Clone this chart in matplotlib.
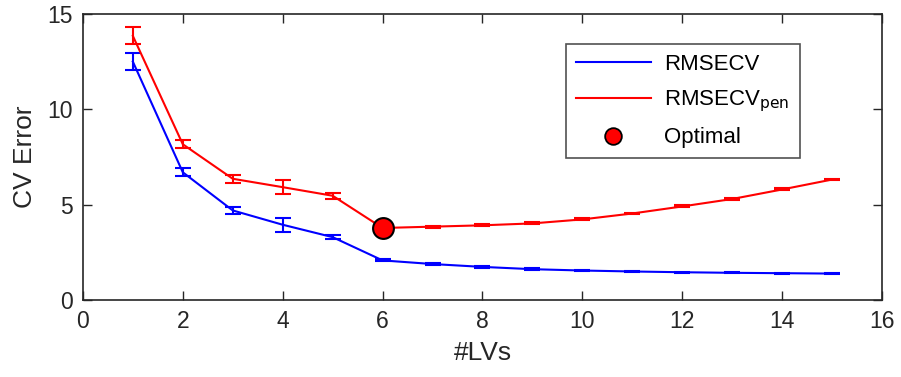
import matplotlib
matplotlib.use("Agg")
import matplotlib.pyplot as plt
from matplotlib.lines import Line2D

plt.rcParams['font.family'] = ['Liberation Sans', 'DejaVu Sans']

lvs = list(range(1, 16))
rmsecv = [12.5, 6.7, 4.7, 3.95, 3.3, 2.08, 1.89, 1.74, 1.62, 1.55, 1.50, 1.46, 1.43, 1.41, 1.39]
rmsecv_err = [0.45, 0.2, 0.18, 0.36, 0.12, 0.05, 0.04, 0.04, 0.04, 0.04, 0.04, 0.03, 0.03, 0.03, 0.03]
rmsecv_pen = [13.85, 8.17, 6.36, 5.92, 5.47, 3.78, 3.85, 3.92, 4.02, 4.23, 4.54, 4.91, 5.30, 5.80, 6.32]
rmsecv_pen_err = [0.45, 0.2, 0.2, 0.36, 0.15, 0.05, 0.05, 0.05, 0.05, 0.05, 0.05, 0.05, 0.05, 0.05, 0.05]
opt_lv = 6
opt_val = 3.78

axcol = '#262626'
fig = plt.figure(figsize=(9.01, 3.77), dpi=100)
ax = fig.add_axes([0.092, 0.204, 0.887, 0.759])

ax.errorbar(lvs, rmsecv, yerr=rmsecv_err, color='#0000ff', lw=1.5, capsize=5.5,
            capthick=1.5, elinewidth=1.5)
ax.errorbar(lvs, rmsecv_pen, yerr=rmsecv_pen_err, color='#ff0000', lw=1.5, capsize=5.5,
            capthick=1.5, elinewidth=1.5)
ax.plot([opt_lv], [opt_val], 'o', ms=15, mfc='#ff0000', mec='black', mew=1.5,
        ls='none', zorder=5)

ax.set_xlim(0, 16)
ax.set_ylim(0, 15)
ax.set_xticks(range(0, 17, 2))
ax.set_yticks([0, 5, 10, 15])
ax.tick_params(direction='in', length=6.5, width=1, colors=axcol, labelsize=16.5,
               top=True, right=True, pad=7)
for lab in ax.get_xticklabels() + ax.get_yticklabels():
    lab.set_color(axcol)
for s in ax.spines.values():
    s.set_color(axcol)
    s.set_linewidth(1.2)
ax.set_xlabel('#LVs', fontsize=19, color=axcol, labelpad=6)
ax.set_ylabel('CV Error', fontsize=19, color=axcol, labelpad=8)

handles = [Line2D([], [], color='#0000ff', lw=1.5),
           Line2D([], [], color='#ff0000', lw=1.5),
           Line2D([], [], marker='o', ms=12, mfc='#ff0000', mec='black', mew=1.3, ls='none')]
leg = ax.legend(handles, ['RMSECV', 'RMSECV$_{\\mathrm{pen}}$', 'Optimal'],
                loc='upper right', bbox_to_anchor=(0.897, 0.895), fontsize=16,
                frameon=True, fancybox=False, edgecolor=axcol, handlelength=3.4,
                borderpad=0.45, labelspacing=0.6, handletextpad=0.6, borderaxespad=0)
leg.get_frame().set_linewidth(1.2)
for t in leg.get_texts():
    t.set_color('black')

fig.savefig('out.png', dpi=100)
